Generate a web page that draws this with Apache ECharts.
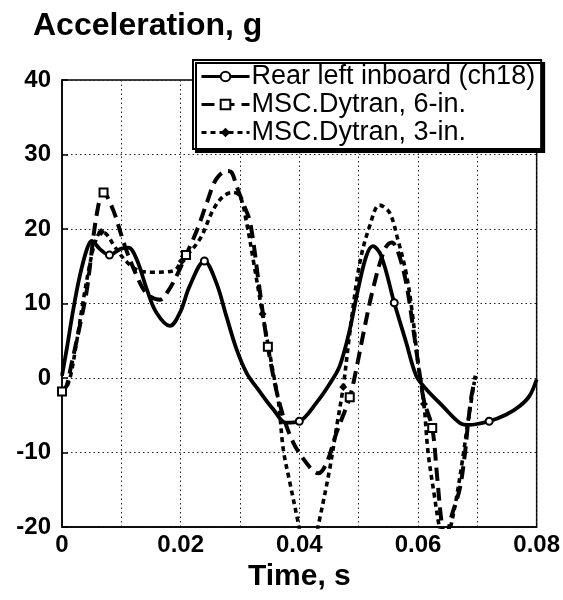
<!DOCTYPE html>
<html>
<head>
<meta charset="utf-8">
<script src="https://cdn.jsdelivr.net/npm/echarts@6/dist/echarts.min.js"></script>
<style>html,body{margin:0;padding:0;background:#fff;}#c{width:563px;height:600px;}</style>
</head>
<body>
<div id="c"></div>
<script>
// ---- data ----
const seriesNames = ['Rear left inboard (ch18)', 'MSC.Dytran, 6-in.', 'MSC.Dytran, 3-in.'];
const xTickValues = [0, 0.02, 0.04, 0.06, 0.08];
const yTickValues = [-20, -10, 0, 10, 20, 30, 40];

const rearData = [[0,0.3],[0.0008,3.9],[0.0019,9.2],[0.003,13.7],[0.0042,17.3],[0.005,18.4],[0.0064,17.3],[0.008,16.5],[0.0098,17.3],[0.0112,17.5],[0.0126,15.9],[0.0143,11.9],[0.0159,8.8],[0.0182,7.0],[0.0199,8.8],[0.0215,12.3],[0.024,15.7],[0.026,12.8],[0.0277,8.3],[0.0294,3.9],[0.0311,0.7],[0.0333,-1.8],[0.0356,-4.2],[0.0378,-6.0],[0.040,-5.8],[0.0429,-3.3],[0.0451,-0.8],[0.0468,1.6],[0.0485,6.5],[0.0499,11.9],[0.0513,16.4],[0.0524,17.7],[0.0538,16.4],[0.056,10.1],[0.058,4.8],[0.0597,0.3],[0.0614,-1.5],[0.0642,-3.8],[0.067,-6.0],[0.0685,-6.3],[0.072,-5.8],[0.0749,-4.9],[0.0771,-3.8],[0.0788,-2.4],[0.080,-0.2]];
const rearMarks = [0.008, 0.024, 0.040, 0.056, 0.072];

const dyt6Data = [[0,-1.8],[0.0008,-1.0],[0.0015,1.5],[0.003,7.0],[0.0042,11.9],[0.0058,21.7],[0.007,24.9],[0.0086,22.6],[0.0106,17.7],[0.0126,13.7],[0.0143,11.3],[0.0165,10.5],[0.0179,11.7],[0.0195,14.0],[0.0209,16.5],[0.0222,18.8],[0.0232,20.8],[0.0244,23.5],[0.026,26.7],[0.0278,27.8],[0.0286,27.6],[0.0294,25.8],[0.0305,23.5],[0.0317,20.9],[0.0332,12.5],[0.0347,4.2],[0.0367,-3.5],[0.039,-8.7],[0.0418,-12.0],[0.0432,-12.8],[0.0446,-11.4],[0.0462,-7.5],[0.0485,-2.6],[0.0495,0.8],[0.0507,5.6],[0.0524,11.9],[0.0544,17.3],[0.0556,18.2],[0.0566,17.0],[0.058,12.8],[0.0594,5.5],[0.0602,1.0],[0.061,-3.0],[0.0624,-6.7],[0.0632,-13.0],[0.064,-19.5],[0.0647,-22.0],[0.0655,-19.0],[0.067,-15.0],[0.0678,-10.9],[0.0684,-6.4],[0.069,-2.5],[0.0697,0.3]];
const dyt6Marks = [0, 0.007, 0.0209, 0.0347, 0.0485, 0.0624];

const dyt3Data = [[0,-2.0],[0.0008,-1.2],[0.0015,0.5],[0.0025,5.0],[0.0035,10.0],[0.0045,14.5],[0.0055,18.0],[0.0066,19.6],[0.0075,19.3],[0.009,17.5],[0.011,15.5],[0.013,14.4],[0.0155,14.2],[0.0188,14.4],[0.0202,15.7],[0.0232,18.6],[0.0255,22.6],[0.0272,24.4],[0.0288,24.9],[0.030,24.4],[0.0311,20.9],[0.0322,16.0],[0.0338,8.6],[0.0356,0.7],[0.0365,-3.3],[0.0373,-9.6],[0.0384,-14.0],[0.0398,-19.4],[0.0415,-26.0],[0.0433,-19.4],[0.0451,-12.3],[0.0464,-6.0],[0.0474,-1.2],[0.0485,6.0],[0.0502,15.5],[0.0519,20.5],[0.0535,23.2],[0.0552,22.2],[0.0566,18.6],[0.058,14.1],[0.059,9.0],[0.060,2.0],[0.061,-3.5],[0.0617,-10.0],[0.0628,-16.0],[0.0636,-20.0],[0.0645,-23.0],[0.0655,-20.0],[0.0665,-16.0],[0.0675,-11.0],[0.0685,-5.5],[0.0695,-0.5]];
const dyt3Marks = [0.0066, 0.0202, 0.0338, 0.0474, 0.061];

// ---- build chart ----
function withMarks(data, marks) {
  return data.map(p => marks.indexOf(p[0]) >= 0 ? { value: p } : { value: p, symbol: 'none' });
}
const FONT = 'Liberation Sans, Arial, Helvetica, sans-serif';
const chart = echarts.init(document.getElementById('c'), null, { renderer: 'canvas' });
chart.setOption({
  animation: false,
  backgroundColor: '#fff',
  title: {
    text: 'Acceleration, g', left: 28, top: 5,
    textStyle: { fontFamily: FONT, fontSize: 32, fontWeight: 'bold', color: '#000' }
  },
  grid: { left: 62, right: 26, top: 80, bottom: 73, show: true, borderColor: '#000', borderWidth: 1.5, backgroundColor: 'transparent' },
  legend: {
    orient: 'vertical', left: 193, top: 60,
    data: seriesNames,
    itemWidth: 48, itemHeight: 12, itemGap: 1,
    padding: [3, 6, 3, 7],
    backgroundColor: '#fff', borderColor: '#000', borderWidth: 2,
    shadowColor: '#000', shadowOffsetX: 3, shadowOffsetY: 3, shadowBlur: 0,
    lineStyle: { width: 3 },
    textStyle: { fontFamily: FONT, fontSize: 27, color: '#000', padding: [0, 0, 0, -3] }
  },
  xAxis: {
    type: 'value', min: 0, max: 0.08, interval: 0.01,
    name: 'Time, s', nameLocation: 'middle', nameGap: 26,
    nameTextStyle: { fontFamily: FONT, fontSize: 30, fontWeight: 'bold', color: '#000' },
    axisLine: { show: true, onZero: false, lineStyle: { color: '#000', width: 1.5 } },
    axisTick: { show: false },
    axisLabel: {
      margin: 6, fontFamily: FONT, fontSize: 24, fontWeight: 'bold', color: '#000',
      formatter: v => {
        const i = xTickValues.findIndex(t => Math.abs(t - v) < 1e-9);
        return i < 0 ? '' : (xTickValues[i] === 0 ? '0' : xTickValues[i].toFixed(2));
      }
    },
    splitLine: { show: true, lineStyle: { color: '#222', width: 1, type: [1.5, 3] } }
  },
  yAxis: {
    type: 'value', min: -20, max: 40, interval: 10,
    axisLine: { show: true, onZero: false, lineStyle: { color: '#000', width: 1.5 } },
    axisTick: { show: true, inside: true, length: 6, lineStyle: { color: '#000', width: 1.5 } },
    axisLabel: {
      margin: 11, fontFamily: FONT, fontSize: 24, fontWeight: 'bold', color: '#000',
      formatter: v => (yTickValues.indexOf(v) >= 0 ? String(v) : '')
    },
    splitLine: { show: true, lineStyle: { color: '#222', width: 1, type: [1.5, 3] } }
  },
  series: [
    {
      name: seriesNames[0], type: 'line', smooth: 0.35, clip: true,
      data: withMarks(rearData, rearMarks),
      symbol: 'emptyCircle', symbolSize: 7,
      lineStyle: { color: '#000', width: 3.8 },
      itemStyle: { color: '#000', borderColor: '#000', borderWidth: 1.2 }
    },
    {
      name: seriesNames[1], type: 'line', smooth: 0.35, clip: true,
      data: withMarks(dyt6Data, dyt6Marks),
      symbol: 'emptyRect', symbolSize: 8,
      lineStyle: { color: '#000', width: 4, type: [13, 7] },
      itemStyle: { color: '#000', borderColor: '#000', borderWidth: 1.2 }
    },
    {
      name: seriesNames[2], type: 'line', smooth: 0.35, clip: true,
      data: withMarks(dyt3Data, dyt3Marks),
      symbol: 'diamond', symbolSize: 8,
      lineStyle: { color: '#000', width: 3.6, type: [5, 4] },
      itemStyle: { color: '#000' }
    }
  ]
});
</script>
</body>
</html>
